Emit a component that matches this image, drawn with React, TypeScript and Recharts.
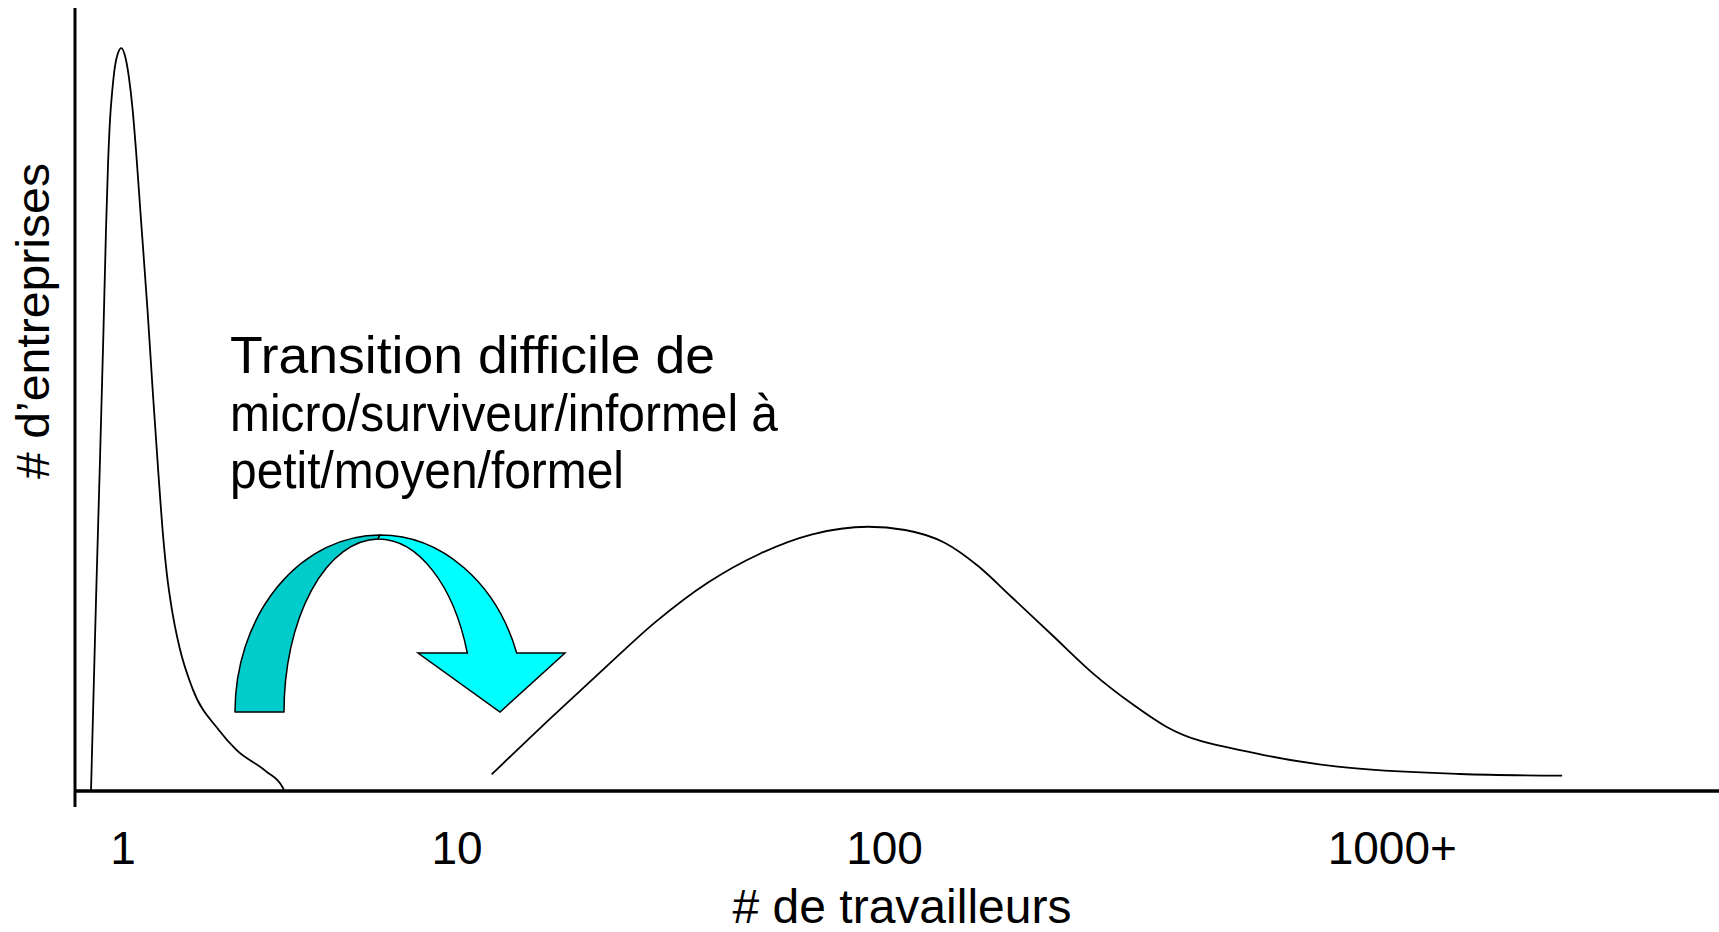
import React from 'react';
import { Label, Line, LineChart, ReferenceLine, XAxis, YAxis } from 'recharts';

// x axis is a schematic "firm size" position, labelled at 1 / 10 / 100 / 1000+
const tickValues = [0, 1, 2.28, 3.8];
const tickLabels = ['1', '10', '100', '1000+'];

// micro / survival / informal firms (sharp peak around 1 worker)
const microPositions = [
  -0.0958, -0.0808, -0.0689, -0.0584, -0.0509, -0.0449, -0.0389, -0.0314, -0.024,
  -0.015, -0.0051, 0.0069, 0.018, 0.0284, 0.0389, 0.0539, 0.0734, 0.0898, 0.1063,
  0.1198, 0.1317, 0.1452, 0.1689, 0.2078, 0.2862, 0.341, 0.4272, 0.4787, 0.482,
];
const microCounts = [
  0, 25.71, 44.55, 62.05, 75.5, 84.25, 90.31, 94.62, 97.58, 99.33, 100, 98.79,
  95.96, 91.92, 86.27, 76.85, 64.74, 53.3, 42.53, 34.45, 29.07, 24.76, 19.38,
  13.82, 8.25, 5.46, 2.68, 0.44, 0,
];

// small / medium / formal firms (broad hump around 100 workers)
const formalPositions = [
  1.1036, 1.2805, 1.4371, 1.5937, 1.7503, 1.9069, 2.0635, 2.2305, 2.3413, 2.4611,
  2.5599, 2.6593, 2.7814, 2.9036, 3.0257, 3.1234, 3.3922, 3.6365, 4.003, 4.3084,
];
const formalCounts = [
  2.23, 9.81, 16.33, 22.73, 28.03, 31.94, 34.55, 35.57, 35.13, 33.38, 30.28, 26.15,
  21.0, 15.84, 11.57, 8.65, 5.07, 3.27, 2.29, 2.06,
];

const noteLines = [
  'Transition difficile de',
  'micro/surviveur/informel à',
  'petit/moyen/formel',
];

const microData = microPositions.map((pos, i) => ({ pos, count: microCounts[i] }));
const formalData = formalPositions.map((pos, i) => ({ pos, count: formalCounts[i] }));

const FONT = '"Liberation Sans", Arial, Helvetica, sans-serif';

function WorkerTick({ x, y, payload }: any) {
  const label = tickLabels[tickValues.indexOf(payload.value)];
  return (
    <text x={x} y={y + 57} textAnchor="middle" fontSize={46} fontFamily={FONT} fill="#000">
      {label}
    </text>
  );
}

function XTitle({ viewBox }: any) {
  return (
    <text
      x={viewBox.x + 827}
      y={viewBox.y + 116}
      textAnchor="middle"
      fontSize={48}
      fontFamily={FONT}
      fill="#000"
    >
      # de travailleurs
    </text>
  );
}

function YTitle({ viewBox }: any) {
  const cx = viewBox.x + 34;
  const cy = viewBox.y + 313;
  return (
    <text
      x={cx}
      y={cy}
      transform={`rotate(-90 ${cx} ${cy})`}
      textAnchor="middle"
      fontSize={46}
      fontFamily={FONT}
      fill="#000"
      textLength={316}
      lengthAdjust="spacingAndGlyphs"
    >
      # d’entreprises
    </text>
  );
}

const noteWidths = [485, 548, 394];

function TransitionNote() {
  return (
    <svg
      width={1719}
      height={932}
      style={{ position: 'absolute', left: 0, top: 0, pointerEvents: 'none' }}
    >
      <g fontFamily={FONT} fontSize={52} fill="#000">
        {noteLines.map((line, i) => (
          <text
            key={line}
            x={230}
            y={373 + i * 57.5}
            textLength={noteWidths[i]}
            lengthAdjust="spacingAndGlyphs"
          >
            {line}
          </text>
        ))}
      </g>
      {/* curved arrow: darker underside on the left, bright face + head on the right */}
      <path
        d="M 235 712 A 145 177 0 0 1 380 535 L 378 539 A 95 173 0 0 0 284 712 Z"
        fill="#00CCCC"
        stroke="#000"
        strokeWidth={1.5}
        strokeLinejoin="round"
      />
      <path
        d="M 380 535 A 145 177 0 0 1 516.7 653 L 565 653 L 500 712 L 418 653 L 467.3 653 A 95 173 0 0 0 378 539 Z"
        fill="#00FFFF"
        stroke="#000"
        strokeWidth={1.5}
      />
    </svg>
  );
}

export default function App() {
  return (
    <div
      style={{
        position: 'absolute',
        left: 0,
        top: 0,
        width: 1719,
        height: 932,
        background: '#fff',
      }}
    >
      <LineChart width={1719} height={932} margin={{ top: 8, right: 0, left: 15, bottom: 0 }}>
        <XAxis
          type="number"
          dataKey="pos"
          domain={[-0.1437, 4.778]}
          allowDataOverflow
          ticks={tickValues}
          interval={0}
          tick={<WorkerTick />}
          tickLine={false}
          tickSize={0}
          tickMargin={0}
          axisLine={false}
          height={125}
        >
          <Label content={<XTitle />} />
        </XAxis>
        <YAxis
          type="number"
          domain={[-2.153, 105.39]}
          allowDataOverflow
          tick={false}
          tickLine={false}
          axisLine={{ stroke: '#000', strokeWidth: 3 }}
          width={60}
        >
          <Label content={<YTitle />} />
        </YAxis>
        <ReferenceLine y={0} stroke="#000" strokeWidth={3.5} />
        <Line
          data={microData}
          dataKey="count"
          type="monotone"
          stroke="#000"
          strokeWidth={1.8}
          dot={false}
          activeDot={false}
          isAnimationActive={false}
        />
        <Line
          data={formalData}
          dataKey="count"
          type="monotone"
          stroke="#000"
          strokeWidth={1.8}
          dot={false}
          activeDot={false}
          isAnimationActive={false}
        />
      </LineChart>
      <TransitionNote />
    </div>
  );
}
